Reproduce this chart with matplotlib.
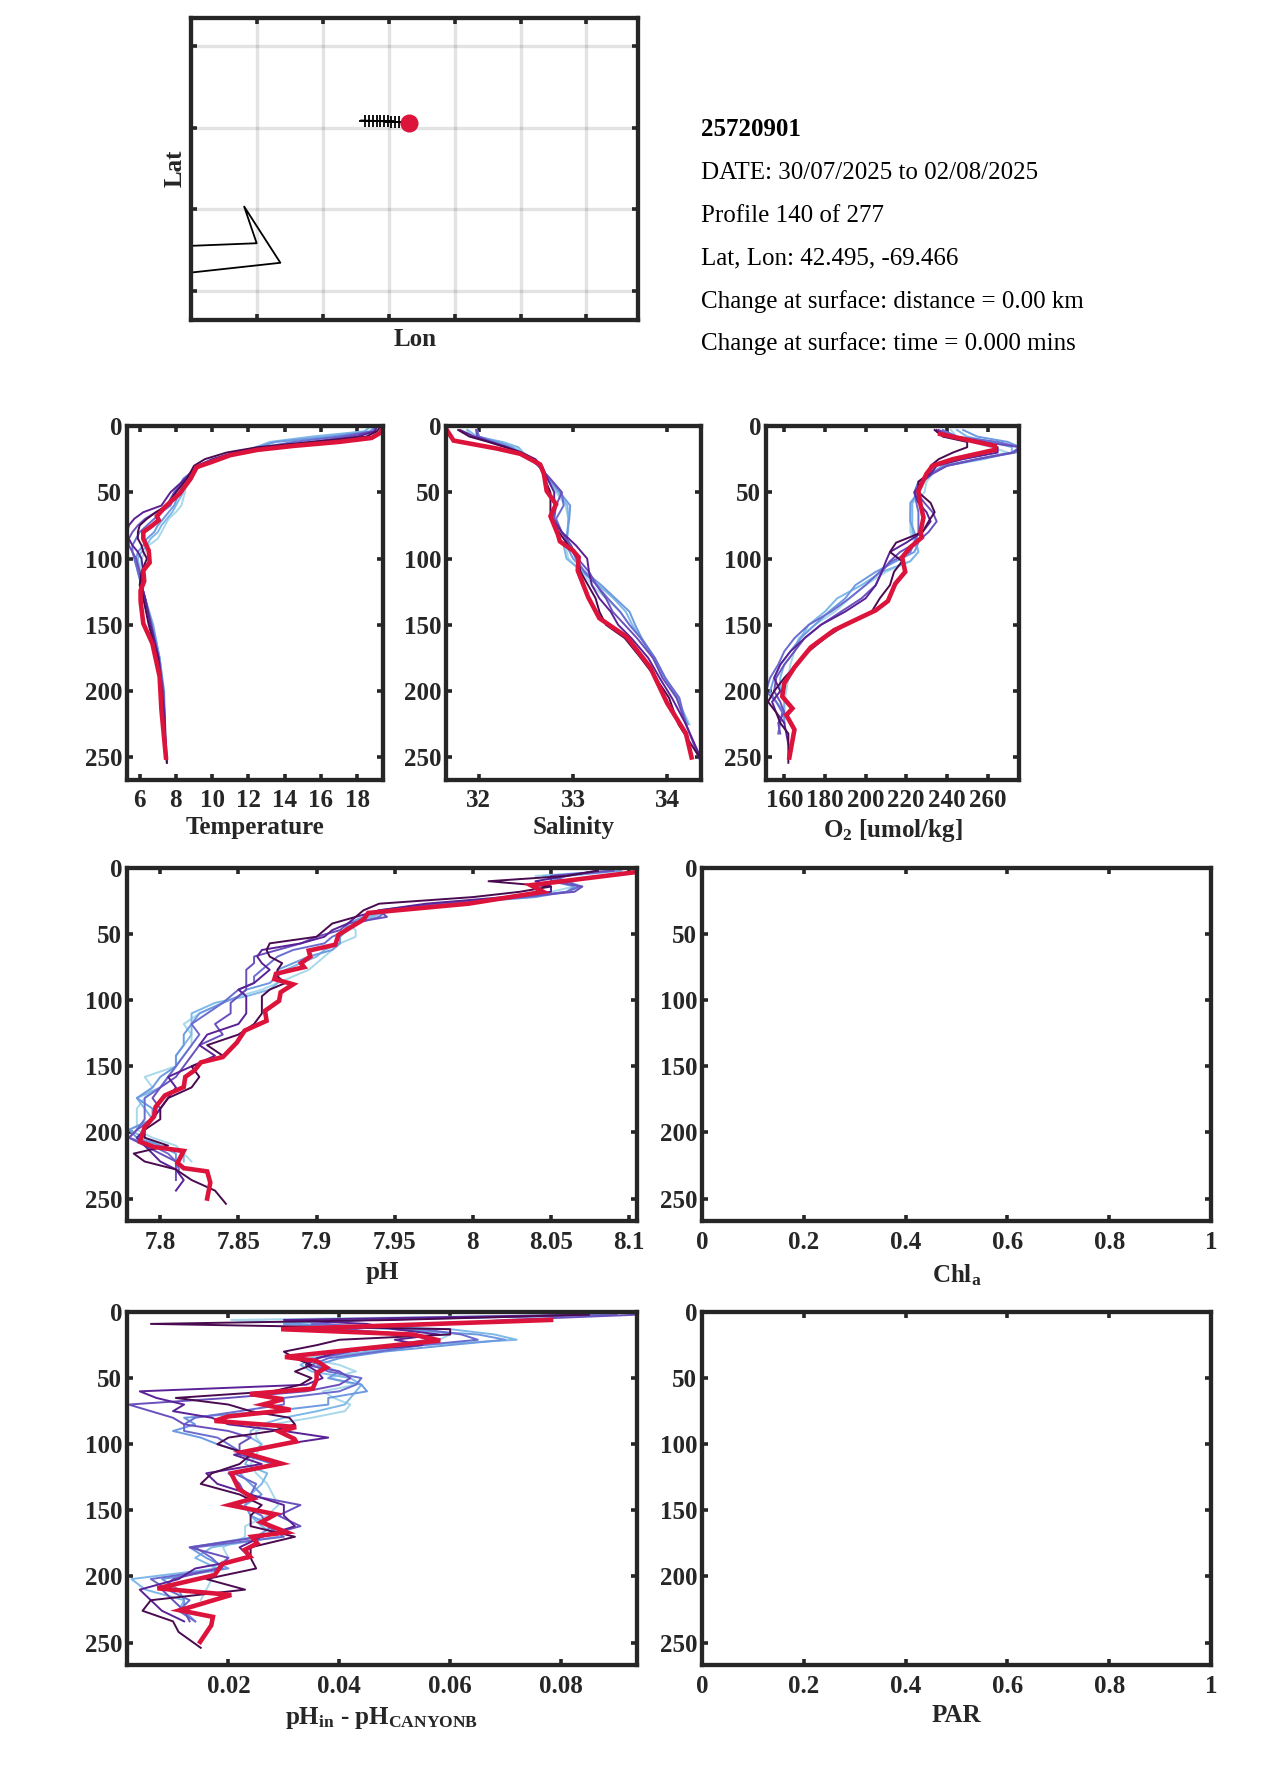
import matplotlib
matplotlib.use("Agg")
import matplotlib.pyplot as plt

plt.rcParams['font.family'] = ['Liberation Serif', 'DejaVu Serif']
plt.rcParams['mathtext.fontset'] = 'custom'
plt.rcParams['mathtext.rm'] = 'Liberation Serif:bold'
plt.rcParams['mathtext.bf'] = 'Liberation Serif:bold'
plt.rcParams['mathtext.it'] = 'Liberation Serif:bold'

W = 1275
H = 1771
dark = '#262626'
red = '#DC143C'
colors = ['#a8d8ea', '#7db8e8', '#6d9ae0', '#6a6cd0', '#6a50bd', '#5a2296', '#4a0a50']

# map panel
lon_ticks = [-69.697, -69.597, -69.497, -69.397, -69.297, -69.197]
lat_ticks = [42.290, 42.3905, 42.490, 42.5905]
coast_lon = [-69.798, -69.698, -69.717, -69.662, -69.798]
coast_lat = [42.3448, 42.348, 42.393, 42.324, 42.312]
track_lon = [-69.539, -69.533, -69.527, -69.521, -69.515, -69.510, -69.505, -69.499, -69.494, -69.488, -69.481, -69.466]
track_lat = [42.4987, 42.4985, 42.4983, 42.4982, 42.4980, 42.4978, 42.4976, 42.4974, 42.4972, 42.4970, 42.4965, 42.495]
info_lines = ["DATE: 30/07/2025 to 02/08/2025", "Profile 140 of 277", "Lat, Lon: 42.495, -69.466",
              "Change at surface: distance = 0.00 km", "Change at surface: time = 0.000 mins"]

# temperature
t_depth = [0, 4, 8, 12, 16, 20, 25, 30, 40, 50, 60, 65, 70, 75, 80, 85, 90, 95, 100, 110, 120, 130, 150, 175, 200, 225, 254]
t_lines = [
    [18.6, 18.5, 16.5, 13.5, 12.6, 11.6, 10.4, 9.4, 8.6, 8.5, 8.3, 8.0, 7.6, 7.4, 7.2, 7.0, 6.5, 6.3, 6.1, 6.0, 6.1, 6.3, 6.7, 7.1, 7.3, 7.4],
    [18.8, 18.4, 15.5, 13.2, 12.4, 11.5, 10.3, 9.3, 8.4, 8.4, 8.0, 7.8, 7.5, 7.2, 7.0, 6.6, 6.4, 6.1, 5.9, 6.0, 6.1, 6.3, 6.75, 7.1, 7.3, 7.4],
    [19.0, 18.7, 16.5, 13.5, 12.5, 11.6, 10.3, 9.3, 8.5, 8.2, 7.9, 7.6, 7.3, 7.0, 6.8, 6.4, 6.2, 5.9, 5.8, 5.9, 6.1, 6.3, 6.7, 7.1, 7.35, 7.4],
    [19.0, 18.9, 17.0, 14.5, 12.8, 11.6, 10.3, 9.3, 8.4, 8.0, 7.7, 7.2, 6.8, 6.4, 6.0, 5.8, 5.6, 5.6, 5.7, 5.9, 6.1, 6.3, 6.6, 7.05, 7.3, 7.4],
    [19.1, 18.9, 17.5, 15.5, 13.0, 11.4, 10.1, 9.2, 8.5, 7.9, 7.5, 6.9, 6.3, 5.9, 5.6, 5.4, 5.4, 5.6, 5.8, 6.0, 6.1, 6.3, 6.65, 7.05, 7.3, 7.4],
    [19.1, 19.0, 18.0, 16.0, 13.0, 11.2, 10.0, 9.2, 8.5, 7.7, 7.2, 6.2, 5.7, 5.4, 5.3, 5.4, 5.6, 5.9, 6.1, 6.2, 6.1, 6.3, 6.6, 7.05, 7.25, 7.4, 7.5],
    [19.3, 19.1, 18.5, 15.5, 12.5, 10.8, 9.6, 9.0, 8.6, 8.0, 7.5, 6.9, 6.4, 6.0, 5.9, 5.9, 6.1, 6.2, 6.4, 6.1, 6.0, 6.2, 6.5, 7.0, 7.2, 7.35, 7.5],
]
t_red_d = [0, 5, 9, 12, 15, 18, 22, 27, 31, 40, 51, 61, 68, 71, 75, 80, 85, 94, 103, 109, 117, 124, 132, 149, 164, 189, 214, 250]
t_red = [19.4, 19.3, 18.8, 17.0, 14.5, 12.5, 11.0, 10.0, 9.15, 8.8, 8.2, 7.4, 6.95, 7.05, 6.7, 6.2, 6.2, 6.5, 6.55, 6.2, 6.25, 6.05, 6.05, 6.2, 6.7, 7.1, 7.2, 7.45]

# salinity
s_depth = [3, 8, 12, 16, 20, 25, 30, 40, 50, 60, 70, 80, 90, 100, 110, 120, 130, 140, 150, 160, 175, 190, 205, 225, 254]
s_lines = [
    [31.87, 31.92, 32.2, 32.4, 32.45, 32.58, 32.66, 32.72, 32.82, 32.92, 32.95, 32.95, 32.92, 32.95, 33.1, 33.2, 33.35, 33.5, 33.6, 33.72, 33.85, 33.97, 34.1, 34.24],
    [31.88, 31.98, 32.25, 32.42, 32.47, 32.58, 32.65, 32.73, 32.84, 32.94, 32.95, 32.94, 32.9, 32.93, 33.1, 33.27, 33.43, 33.56, 33.63, 33.72, 33.85, 33.97, 34.1, 34.22],
    [31.98, 32.0, 32.2, 32.35, 32.45, 32.56, 32.64, 32.74, 32.86, 32.97, 32.96, 32.94, 32.93, 33.0, 33.13, 33.3, 33.45, 33.6, 33.66, 33.73, 33.87, 33.98, 34.11, 34.22],
    [31.98, 32.0, 32.15, 32.3, 32.42, 32.55, 32.63, 32.76, 32.88, 32.9, 32.82, 32.88, 32.97, 33.03, 33.12, 33.25, 33.37, 33.5, 33.6, 33.72, 33.87, 33.98, 34.13, 34.2],
    [31.97, 31.98, 32.12, 32.3, 32.42, 32.55, 32.63, 32.76, 32.88, 32.82, 32.8, 32.88, 32.98, 33.05, 33.17, 33.25, 33.35, 33.42, 33.55, 33.68, 33.85, 33.95, 34.1, 34.2, 34.36],
    [31.8, 31.95, 32.12, 32.3, 32.45, 32.6, 32.67, 32.73, 32.8, 32.8, 32.78, 32.88, 33.03, 33.15, 33.17, 33.2, 33.28, 33.4, 33.48, 33.62, 33.8, 33.92, 34.05, 34.2, 34.38],
    [31.78, 31.9, 32.1, 32.28, 32.45, 32.58, 32.66, 32.7, 32.76, 32.76, 32.76, 32.85, 32.95, 33.05, 33.08, 33.16, 33.24, 33.28, 33.35, 33.55, 33.72, 33.88, 34.02, 34.12, 34.38],
]
s_red_d = [2, 11, 17, 21, 29, 36, 49, 59, 68, 82, 87, 94, 99, 109, 129, 145, 159, 182, 209, 232, 250]
s_red = [31.65, 31.73, 32.19, 32.44, 32.65, 32.69, 32.72, 32.82, 32.76, 32.84, 32.86, 33.0, 33.06, 33.05, 33.16, 33.28, 33.57, 33.82, 34.0, 34.2, 34.26]

# oxygen
o_depth = [3, 8, 12, 16, 20, 25, 30, 36, 42, 50, 58, 65, 72, 80, 88, 95, 102, 110, 120, 130, 140, 150, 160, 170, 180, 190, 200, 208, 216, 224, 232, 240, 254]
o_lines = [
    [242, 245, 252, 262, 270, 255, 240, 233, 230, 229, 223, 222, 222, 222, 224, 226, 222, 210, 200, 192, 185, 175, 167, 165, 163, 162, 161, 160, 160],
    [245, 250, 262, 272, 272, 258, 240, 232, 228, 225, 223, 223, 223, 223, 225, 226, 222, 208, 198, 186, 180, 172, 168, 165, 160, 158, 158, 160, 160, 160],
    [248, 255, 270, 276, 274, 255, 238, 232, 227, 226, 222, 222, 222, 224, 226, 224, 215, 205, 195, 190, 182, 175, 168, 163, 158, 155, 153, 156, 160, 160],
    [238, 245, 265, 276, 272, 255, 240, 232, 226, 224, 225, 226, 226, 226, 224, 222, 213, 207, 200, 192, 183, 172, 165, 160, 157, 153, 151, 156, 159, 158, 157],
    [236, 243, 258, 276, 273, 255, 240, 233, 228, 225, 229, 233, 235, 231, 225, 217, 212, 208, 205, 198, 188, 178, 170, 165, 160, 156, 155, 158, 160, 157, 158],
    [235, 240, 258, 265, 265, 248, 235, 232, 228, 224, 226, 230, 232, 228, 220, 212, 210, 208, 205, 200, 190, 178, 170, 163, 158, 155, 158, 154, 156, 160, 161, 162],
    [234, 238, 250, 250, 243, 236, 232, 231, 226, 226, 232, 234, 231, 228, 215, 212, 218, 214, 212, 207, 203, 190, 180, 172, 166, 160, 155, 152, 156, 158, 162, 162, 162],
]
o_red_d = [6, 15, 18, 25, 30, 36, 49, 59, 69, 80, 84, 91.5, 99, 110, 119, 132, 139, 147, 154, 167, 182, 194, 204, 213, 218, 229, 250]
o_red = [236.7, 263.6, 263.6, 243, 233, 230, 226, 227, 228.5, 227, 227.7, 222, 218, 219.5, 214.6, 211, 205, 194, 184.5, 173, 165, 160, 159, 164, 161, 165, 162.5]

# pH
ph_depth = [2, 6, 10, 14, 18, 22, 27, 32, 37, 42, 47, 52, 57, 62, 67, 72, 77, 82, 87, 92, 97, 102, 110, 118, 126, 134, 142, 150, 158, 166, 174, 182, 190, 198, 204, 210, 216, 222, 228, 236, 244, 254]
ph_lines = [
    [8.09, 8.04, 8.06, 8.065, 8.05, 8.03, 7.99, 7.95, 7.935, 7.92, 7.925, 7.925, 7.915, 7.91, 7.905, 7.90, 7.895, 7.885, 7.875, 7.865, 7.85, 7.84, 7.825, 7.815, 7.82, 7.82, 7.815, 7.81, 7.79, 7.795, 7.79, 7.785, 7.785, 7.785, 7.795, 7.81, 7.815, 7.82],
    [8.09, 8.045, 8.06, 8.07, 8.06, 8.03, 7.98, 7.945, 7.935, 7.92, 7.92, 7.915, 7.915, 7.905, 7.90, 7.89, 7.88, 7.875, 7.875, 7.87, 7.855, 7.835, 7.82, 7.82, 7.82, 7.815, 7.81, 7.81, 7.805, 7.80, 7.785, 7.79, 7.795, 7.78, 7.79, 7.80, 7.815, 7.815],
    [8.095, 8.06, 8.05, 8.065, 8.06, 8.04, 7.985, 7.945, 7.93, 7.92, 7.918, 7.915, 7.915, 7.91, 7.895, 7.885, 7.875, 7.875, 7.87, 7.855, 7.85, 7.84, 7.825, 7.82, 7.815, 7.815, 7.81, 7.81, 7.80, 7.795, 7.785, 7.795, 7.795, 7.78, 7.785, 7.80, 7.81, 7.81, 7.815],
    [8.09, 8.05, 8.06, 8.068, 8.06, 8.035, 7.98, 7.945, 7.94, 7.925, 7.92, 7.91, 7.905, 7.885, 7.875, 7.87, 7.865, 7.86, 7.86, 7.85, 7.845, 7.84, 7.83, 7.82, 7.825, 7.82, 7.815, 7.81, 7.805, 7.80, 7.79, 7.79, 7.79, 7.785, 7.78, 7.795, 7.805, 7.81, 7.812],
    [8.09, 8.05, 8.05, 8.07, 8.065, 8.03, 7.975, 7.94, 7.945, 7.92, 7.915, 7.90, 7.89, 7.875, 7.86, 7.86, 7.855, 7.855, 7.855, 7.855, 7.85, 7.845, 7.845, 7.835, 7.84, 7.825, 7.82, 7.815, 7.81, 7.80, 7.795, 7.80, 7.795, 7.785, 7.78, 7.79, 7.80, 7.81, 7.81, 7.81],
    [8.08, 8.06, 8.04, 8.05, 8.05, 8.02, 7.97, 7.94, 7.925, 7.92, 7.91, 7.905, 7.89, 7.865, 7.862, 7.865, 7.87, 7.865, 7.86, 7.85, 7.855, 7.855, 7.855, 7.85, 7.83, 7.825, 7.835, 7.82, 7.805, 7.81, 7.805, 7.80, 7.795, 7.79, 7.785, 7.79, 7.795, 7.80, 7.81, 7.815, 7.81],
    [8.08, 8.06, 8.01, 8.05, 8.03, 8.0, 7.94, 7.93, 7.925, 7.91, 7.905, 7.90, 7.87, 7.868, 7.87, 7.878, 7.875, 7.875, 7.88, 7.87, 7.865, 7.865, 7.865, 7.86, 7.85, 7.83, 7.84, 7.82, 7.825, 7.82, 7.805, 7.80, 7.80, 7.79, 7.79, 7.805, 7.783, 7.79, 7.81, 7.82, 7.835, 7.842],
]
ph_red_d = [3, 13, 18, 27, 34, 39, 50.5, 58, 62.5, 67, 72, 75, 80, 84, 88, 94, 100.5, 108, 115.6, 123, 132, 143, 147, 153, 158, 165.7, 172, 180.7, 188, 196, 207, 211, 214, 223, 227, 229.5, 238, 250]
ph_red = [8.105, 8.037, 8.045, 7.997, 7.933, 7.93, 7.914, 7.912, 7.895, 7.896, 7.89, 7.892, 7.874, 7.873, 7.885, 7.877, 7.876, 7.867, 7.868, 7.854, 7.849, 7.84, 7.826, 7.822, 7.816, 7.815, 7.803, 7.797, 7.796, 7.79, 7.787, 7.796, 7.815, 7.811, 7.815, 7.83, 7.832, 7.83]

# pH in situ minus CANYON-B
d_depth = [2, 6, 9, 13, 17, 21, 25, 30, 35, 40, 45, 50, 55, 60, 65, 70, 75, 80, 85, 90, 95, 100, 108, 115, 122, 130, 138, 146, 154, 162, 170, 178, 186, 194, 202, 210, 218, 226, 234, 242, 254]
d_lines = [
    [.085, .0205, .035, .055, .06, .058, .05, .04, .034, .04, .043, .038, .043, .037, .039, .042, .041, .035, .028, .025, .025, .026, .025, .024, .025, .027, .028, .029, .027, .023, .023, .019, .02, .017, .017, .016, .015],
    [.088, .035, .03, .06, .068, .072, .055, .045, .035, .033, .035, .042, .044, .043, .042, .041, .036, .03, .026, .024, .024, .026, .024, .023, .027, .026, .024, .023, .024, .026, .029, .017, .014, .018, .0025, .005, .012, .011],
    [.09, .04, .03, .05, .065, .07, .06, .048, .04, .036, .04, .038, .044, .045, .038, .038, .028, .012, .014, .01, .015, .018, .024, .029, .022, .024, .026, .023, .024, .028, .025, .013, .016, .02, .008, .011, .012, .012, .014],
    [.09, .045, .035, .055, .062, .065, .055, .047, .038, .035, .038, .044, .043, .04, .03, .03, .022, .014, .012, .012, .018, .02, .023, .028, .021, .025, .024, .022, .026, .027, .03, .014, .017, .019, .006, .009, .013, .011, .014],
    [.094, .07, .06, .04, .054, .056, .05, .042, .036, .034, .04, .042, .04, .034, .02, .002, .006, .01, .012, .02, .024, .022, .022, .03, .02, .022, .023, .033, .029, .033, .026, .013, .02, .018, .01, .008, .01, .012, .013],
    [.085, .03, .045, .05, .058, .05, .055, .04, .036, .034, .036, .037, .034, .004, .007, .012, .01, .017, .02, .03, .038, .03, .021, .026, .016, .018, .024, .03, .03, .032, .026, .022, .024, .014, .011, .004, .006, .008, .012],
    [.085, .05, .006, .06, .06, .04, .036, .03, .032, .035, .032, .035, .033, .028, .0105, .02, .024, .031, .032, .028, .02, .018, .024, .022, .017, .015, .022, .026, .024, .024, .032, .024, .024, .025, .016, .023, .006, .0045, .01, .011, .015],
]
d_red_d = [6, 13, 17, 21.6, 24.6, 32, 34, 37, 42, 46, 51, 58, 62, 66, 70, 74, 79, 82.4, 87, 90.5, 96, 98, 106, 114.6, 122, 134, 141, 146, 153, 159, 166.6, 170, 175, 180, 185, 190.5, 199, 209, 214, 225.6, 230.6, 237, 249.5]
d_red = [.0782, .0295, .0532, .0582, .0512, .0345, .0302, .0359, .0377, .0359, .0359, .0352, .0239, .0299, .0262, .0312, .0199, .0175, .0322, .0292, .0319, .0322, .0225, .0295, .0205, .0219, .0245, .0202, .0285, .0259, .0305, .0242, .0252, .0229, .0239, .0189, .0175, .0072, .0205, .0112, .0172, .0169, .0149]

depth_ticks = [0, 50, 100, 150, 200, 250]


def make_ax(fig, left, right, top, bottom):
    return fig.add_axes([left / W, 1 - bottom / H, (right - left) / W, (bottom - top) / H])


def style(ax, xpad=7.5):
    for s in ax.spines.values():
        s.set_linewidth(3.1)
        s.set_color(dark)
    ax.tick_params(which='both', direction='in', top=True, right=True, length=4, width=2.6,
                   color=dark, labelcolor=dark, labelsize=18)
    ax.tick_params(axis='x', pad=xpad)
    ax.tick_params(axis='y', pad=3.5)
    for lab in ax.get_xticklabels() + ax.get_yticklabels():
        lab.set_fontweight('bold')


def profile_panel(fig, box, depth, lines, red_d, red_v, xlim, xticks, xticklabels, xlabel, xlabel_y, xpad=7.5):
    ax = make_ax(fig, *box)
    for v, c in zip(lines, colors):
        ax.plot(v, depth[:len(v)], color=c, lw=1.4)
    if red_v:
        ax.plot(red_v, red_d, color=red, lw=3.3, solid_joinstyle='miter')
    ax.set_xlim(xlim)
    ax.set_ylim(267, 0)
    ax.set_xticks(xticks)
    ax.set_xticklabels(xticklabels)
    ax.set_yticks(depth_ticks)
    style(ax, xpad)
    fig.text((box[0] + box[1]) / 2 / W, 1 - xlabel_y / H, xlabel, ha='center', va='center',
             fontsize=18, fontweight='bold', color=dark)
    return ax


fig = plt.figure(figsize=(W / 100, H / 100), dpi=100)

# map
ax = make_ax(fig, 191, 638, 18, 320)
ax.grid(True, color='k', alpha=0.11, lw=2.4)
ax.set_axisbelow(True)
ax.plot(coast_lon, coast_lat, color='k', lw=1.3)
ax.plot(track_lon, track_lat, color='k', lw=1.3, marker='+', ms=8, mew=1.3, markevery=(1, 1))
ax.plot(track_lon[-1], track_lat[-1], 'o', color=red, ms=13, mew=0, zorder=5)
ax.set_xlim(-69.7978, -69.1185)
ax.set_ylim(42.2538, 42.6244)
ax.set_xticks(lon_ticks)
ax.set_yticks(lat_ticks)
ax.set_xticklabels([])
ax.set_yticklabels([])
style(ax)
fig.text(415 / W, 1 - 340 / H, 'Lon', ha='center', va='center', fontsize=18, fontweight='bold', color=dark)
fig.text(175 / W, 1 - 168 / H, 'Lat', ha='center', va='center', rotation=90, fontsize=18, fontweight='bold', color=dark)

# info text
fig.text(701 / W, 1 - 130 / H, '25720901', va='center', fontsize=18, fontweight='bold', color='k')
for i, line in enumerate(info_lines):
    fig.text(701 / W, 1 - (173 + i * 42.7) / H, line, va='center', fontsize=18, color='k')

profile_panel(fig, (127, 383, 426, 780), t_depth, t_lines, t_red_d, t_red, (5.3, 19.43),
              [6, 8, 10, 12, 14, 16, 18], ['6', '8', '10', '12', '14', '16', '18'], 'Temperature', 828, 6.5)
profile_panel(fig, (446, 701, 426, 780), s_depth, s_lines, s_red_d, s_red, (31.65, 34.36),
              [32, 33, 34], ['32', '33', '34'], 'Salinity', 828, 6.5)
profile_panel(fig, (766, 1019, 426, 780), o_depth, o_lines, o_red_d, o_red, (151, 275.5),
              [160, 180, 200, 220, 240, 260], ['160', '180', '200', '220', '240', '260'], 'O$_{2}$ [umol/kg]', 830, 6.5)

profile_panel(fig, (127, 637, 868, 1221), ph_depth, ph_lines, ph_red_d, ph_red, (7.7787, 8.105),
              [7.8, 7.85, 7.9, 7.95, 8, 8.05, 8.1], ['7.8', '7.85', '7.9', '7.95', '8', '8.05', '8.1'], 'pH', 1273)
profile_panel(fig, (702, 1211, 868, 1221), [], [], [], [], (0, 1),
              [0, .2, .4, .6, .8, 1], ['0', '0.2', '0.4', '0.6', '0.8', '1'], 'Chl$_{a}$', 1275)

profile_panel(fig, (127, 637, 1312, 1665), d_depth, d_lines, d_red_d, d_red, (0.0017, 0.0937),
              [.02, .04, .06, .08], ['0.02', '0.04', '0.06', '0.08'], 'pH$_{in}$ - pH$_{CANYONB}$', 1718)
profile_panel(fig, (702, 1211, 1312, 1665), [], [], [], [], (0, 1),
              [0, .2, .4, .6, .8, 1], ['0', '0.2', '0.4', '0.6', '0.8', '1'], 'PAR', 1716)

fig.savefig('out.png', dpi=100)
